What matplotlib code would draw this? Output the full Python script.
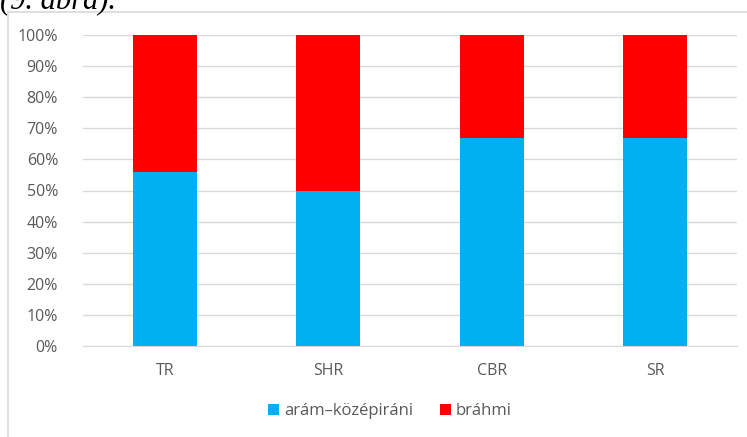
import matplotlib
matplotlib.use("Agg")
import matplotlib.pyplot as plt
from matplotlib.patches import Rectangle

categories = ["TR", "SHR", "CBR", "SR"]
aram = [56, 50, 67, 67]
brahmi = [44, 50, 33, 33]
series_names = ["arám\u2013középiráni", "bráhmi"]
yticks = [0, 10, 20, 30, 40, 50, 60, 70, 80, 90, 100]

W, H = 747, 437
fig = plt.figure(figsize=(W / 100, H / 100), dpi=100)
plt.rcParams['font.family'] = ['Open Sans', 'DejaVu Sans']

# chart frame
fig.patches.append(Rectangle((8 / W, -0.1), 1.2, (H - 12) / H + 0.1, transform=fig.transFigure,
                             fill=False, edgecolor="#d9d9d9", linewidth=1.2))

# cut-off caption
fig.text(0, 1 - 9 / H, "(9. ábra).", family="Liberation Serif", style="italic",
         fontsize=22, va="baseline", ha="left", color="black")

ax = fig.add_axes([83 / W, 1 - 346 / H, (737 - 83) / W, (346 - 35) / H])
x = list(range(len(categories)))
ax.bar(x, aram, width=0.39, color="#00b0f0", label=series_names[0], zorder=3)
ax.bar(x, brahmi, width=0.39, bottom=aram, color="#ff0000", label=series_names[1], zorder=3)
ax.set_xlim(-0.5, len(categories) - 0.5)
ax.set_ylim(0, 100)
ax.set_yticks(yticks)
ax.set_yticklabels([f"{v}%" for v in yticks])
ax.set_xticks(x)
ax.set_xticklabels(categories)
ax.yaxis.grid(True, color="#d9d9d9", linewidth=1, zorder=0)
for s in ["top", "right", "left"]:
    ax.spines[s].set_visible(False)
ax.spines["bottom"].set_color("#d9d9d9")
ax.tick_params(axis="both", length=0, colors="#595959", labelsize=11.5)
ax.tick_params(axis="y", pad=18)
ax.tick_params(axis="x", pad=12)

leg = fig.legend(loc="center", bbox_to_anchor=(390 / W, 1 - 411 / H), ncol=2, frameon=False,
                 fontsize=12, handlelength=0.65, handleheight=0.65, handletextpad=0.3,
                 columnspacing=1.6)
for t in leg.get_texts():
    t.set_color("#595959")

fig.savefig("out.png", dpi=100)
